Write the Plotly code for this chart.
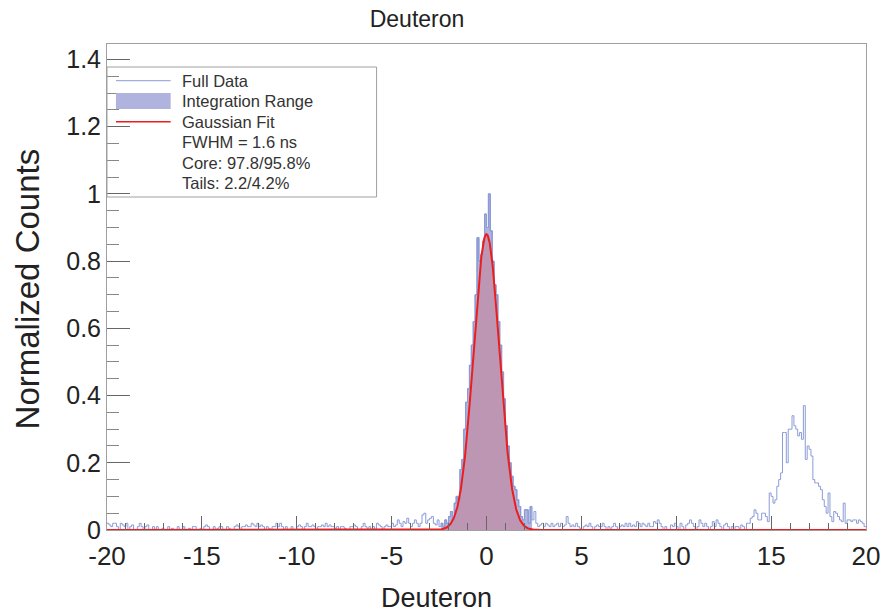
import numpy as np
import plotly.graph_objects as go

# ---------------- data ----------------
bin_lo = -20.0
bin_width = 0.1
# Normalized counts per 0.1 ns bin, one row per unit from -20 to 19
counts = [
    0.02, 0.015, 0.01, 0.02, 0.02, 0.01, 0.0, 0.02, 0.015, 0.01,      # -20
    0.02, 0.0, 0.01, 0.015, 0.0, 0.0, 0.01, 0.02, 0.01, 0.0,          # -19
    0.01, 0.015, 0.0, 0.0, 0.01, 0.0, 0.01, 0.0, 0.0, 0.005,          # -18
    0.0, 0.0, 0.01, 0.0, 0.005, 0.0, 0.0, 0.01, 0.0, 0.0,             # -17
    0.01, 0.0, 0.0, 0.005, 0.0, 0.01, 0.01, 0.0, 0.0, 0.005,          # -16
    0.0, 0.01, 0.015, 0.01, 0.0, 0.0, 0.01, 0.0, 0.005, 0.01,         # -15
    0.01, 0.0, 0.0, 0.01, 0.005, 0.0, 0.0, 0.01, 0.015, 0.01,         # -14
    0.0, 0.01, 0.01, 0.015, 0.01, 0.01, 0.02, 0.015, 0.01, 0.02,      # -13
    0.01, 0.015, 0.01, 0.0, 0.01, 0.005, 0.0, 0.01, 0.01, 0.02,       # -12
    0.01, 0.02, 0.01, 0.0, 0.01, 0.0, 0.0, 0.01, 0.0, 0.0,            # -11
    0.01, 0.015, 0.01, 0.0, 0.01, 0.02, 0.01, 0.01, 0.015, 0.01,      # -10
    0.0, 0.01, 0.01, 0.015, 0.01, 0.02, 0.01, 0.015, 0.01, 0.01,      # -9
    0.005, 0.01, 0.0, 0.01, 0.01, 0.005, 0.0, 0.0, 0.01, 0.01,        # -8
    0.015, 0.01, 0.0, 0.0, 0.01, 0.02, 0.01, 0.005, 0.01, 0.0,        # -7
    0.01, 0.0, 0.02, 0.015, 0.01, 0.0, 0.01, 0.015, 0.01, 0.01,       # -6
    0.02, 0.01, 0.015, 0.03, 0.02, 0.01, 0.025, 0.02, 0.035, 0.02,    # -5
    0.01, 0.02, 0.03, 0.02, 0.01, 0.02, 0.045, 0.05, 0.02, 0.03,      # -4
    0.035, 0.04, 0.02, 0.015, 0.03, 0.01, 0.02, 0.01, 0.03, 0.02,     # -3
    0.04, 0.055, 0.03, 0.08, 0.10, 0.09, 0.18, 0.21, 0.30, 0.38,      # -2
    0.42, 0.49, 0.55, 0.62, 0.70, 0.87, 0.80, 0.82, 0.86, 0.94,       # -1
    0.90, 1.00, 0.89, 0.80, 0.73, 0.70, 0.62, 0.55, 0.47, 0.39,       # 0
    0.31, 0.25, 0.20, 0.16, 0.13, 0.12, 0.09, 0.07, 0.04, 0.03,       # 1
    0.06, 0.06, 0.02, 0.07, 0.03, 0.055, 0.02, 0.01, 0.015, 0.02,     # 2
    0.01, 0.02, 0.015, 0.01, 0.02, 0.01, 0.015, 0.02, 0.01, 0.02,     # 3
    0.01, 0.015, 0.04, 0.02, 0.01, 0.015, 0.01, 0.02, 0.01, 0.005,    # 4
    0.0, 0.01, 0.015, 0.01, 0.02, 0.01, 0.0, 0.01, 0.015, 0.01,       # 5
    0.01, 0.02, 0.01, 0.0, 0.01, 0.005, 0.01, 0.02, 0.01, 0.0,        # 6
    0.01, 0.015, 0.01, 0.02, 0.01, 0.02, 0.01, 0.015, 0.01, 0.025,    # 7
    0.02, 0.01, 0.02, 0.015, 0.01, 0.02, 0.01, 0.01, 0.025, 0.02,     # 8
    0.03, 0.02, 0.01, 0.0, 0.01, 0.0, 0.0, 0.015, 0.01, 0.02,         # 9
    0.01, 0.0, 0.02, 0.01, 0.0, 0.015, 0.02, 0.03, 0.02, 0.01,        # 10
    0.0, 0.01, 0.03, 0.02, 0.01, 0.02, 0.01, 0.0, 0.01, 0.025,        # 11
    0.01, 0.03, 0.02, 0.01, 0.0, 0.015, 0.02, 0.01, 0.0, 0.01,        # 12
    0.0, 0.01, 0.01, 0.005, 0.015, 0.01, 0.0, 0.02, 0.02, 0.035,      # 13
    0.04, 0.06, 0.05, 0.03, 0.03, 0.05, 0.05, 0.04, 0.025, 0.11,      # 14
    0.10, 0.08, 0.09, 0.13, 0.15, 0.17, 0.29, 0.29, 0.20, 0.30,       # 15
    0.30, 0.34, 0.31, 0.30, 0.28, 0.29, 0.27, 0.37, 0.21, 0.25,       # 16
    0.24, 0.22, 0.15, 0.14, 0.14, 0.13, 0.12, 0.09, 0.07, 0.05,       # 17
    0.11, 0.04, 0.025, 0.055, 0.05, 0.04, 0.03, 0.025, 0.08, 0.02,    # 18
    0.03, 0.03, 0.025, 0.03, 0.03, 0.02, 0.03, 0.025, 0.02, 0.01,     # 19
]
integration_range = [-2.4, 2.4]
# Gaussian fit parameters
fit_amp = 0.88
fit_mean = 0.0
fit_sigma = 0.68

legend_labels = ["Full Data", "Integration Range", "Gaussian Fit"]
legend_notes = ["FWHM = 1.6 ns", "Core: 97.8/95.8%", "Tails: 2.2/4.2%"]
title_text = "Deuteron"
x_title = "Deuteron"
y_title = "Normalized Counts"
x_ticks = [-20, -15, -10, -5, 0, 5, 10, 15, 20]
x_ticklabels = ["-20", "-15", "-10", "-5", "0", "5", "10", "15", "20"]
y_ticks = [0, 0.2, 0.4, 0.6, 0.8, 1.0, 1.2, 1.4]
y_ticklabels = ["0", "0.2", "0.4", "0.6", "0.8", "1", "1.2", "1.4"]

# ---------------- derived ----------------
n_bins = len(counts)
edges = np.round(bin_lo + bin_width * np.arange(n_bins + 1), 3)
x_step = list(edges)
y_step = list(counts) + [counts[-1]]

i0 = int(round((integration_range[0] - bin_lo) / bin_width))
i1 = int(round((integration_range[1] - bin_lo) / bin_width))
x_fill = list(edges[i0:i1 + 1])
y_fill = list(counts[i0:i1]) + [counts[i1 - 1]]

xg = np.linspace(-20, 20, 2001)
yg = fit_amp * np.exp(-0.5 * ((xg - fit_mean) / fit_sigma) ** 2)

BLUE_LINE = "#8c9cd6"
LAVENDER = "#afb3dd"
RED = "#ee1c1c"
FONT = "Liberation Sans, Arial, sans-serif"
TXT = "#222222"

fig = go.Figure()
fig.add_trace(go.Scatter(x=x_fill, y=y_fill, mode="lines", line=dict(shape="hv", color="#7e8ecc", width=1),
                         fill="tozeroy", fillcolor=LAVENDER, showlegend=False, hoverinfo="skip"))
fig.add_trace(go.Scatter(x=xg, y=yg, mode="lines", line=dict(color="rgba(0,0,0,0)", width=0),
                         fill="tozeroy", fillcolor="rgba(235,60,45,0.24)", showlegend=False, hoverinfo="skip"))
fig.add_trace(go.Scatter(x=x_step, y=y_step, mode="lines", line=dict(shape="hv", color=BLUE_LINE, width=1),
                         showlegend=False))
fig.add_trace(go.Scatter(x=xg, y=yg, mode="lines", line=dict(color=RED, width=2), showlegend=False))

# body margin is removed by a post script, so the figure fills the page from (0, 0)
W, H = 892, 614
plot_left, plot_right, plot_top, plot_bottom = 107, 870, 44, 530   # page pixels
L, T, R, B = plot_left, plot_top, W - plot_right, H - plot_bottom
pw, ph = plot_right - plot_left, plot_bottom - plot_top

def px(xp):
    return (xp - plot_left) / pw

def py(yp):
    return (plot_bottom - yp) / ph

shapes = []
annotations = []
# legend box
shapes.append(dict(type="rect", xref="paper", yref="paper", x0=px(107), x1=px(378), y0=py(197), y1=py(67),
                   line=dict(color="#a0a0a0", width=1), fillcolor="rgba(0,0,0,0)", layer="above"))
row_y = [80.7, 101, 121.7, 142, 162.5, 183]
shapes.append(dict(type="line", xref="paper", yref="paper", x0=px(116), x1=px(171), y0=py(row_y[0]), y1=py(row_y[0]),
                   line=dict(color=BLUE_LINE, width=1)))
shapes.append(dict(type="rect", xref="paper", yref="paper", x0=px(116), x1=px(171), y0=py(109), y1=py(93),
                   line=dict(width=0), fillcolor=LAVENDER))
shapes.append(dict(type="line", xref="paper", yref="paper", x0=px(116), x1=px(171), y0=py(row_y[2]), y1=py(row_y[2]),
                   line=dict(color=RED, width=1.5)))
for txt, yy in zip(legend_labels + legend_notes, row_y):
    annotations.append(dict(text=txt, xref="paper", yref="paper", x=px(180), y=py(yy), xanchor="left",
                            yanchor="middle", showarrow=False, font=dict(family=FONT, size=16.5, color="#333333")))
# axis titles
annotations.append(dict(text=x_title, xref="paper", yref="paper", x=px(438), y=py(598), xanchor="center",
                        yanchor="middle", showarrow=False, font=dict(family=FONT, size=27, color=TXT)))
annotations.append(dict(text=y_title, xref="paper", yref="paper", x=px(27), y=py(289), xanchor="center",
                        yanchor="middle", showarrow=False, textangle=-90, font=dict(family=FONT, size=33, color=TXT)))

fig.update_layout(
    width=W, height=H,
    margin=dict(l=L, r=R, t=T, b=B, pad=0),
    paper_bgcolor="white", plot_bgcolor="white",
    title=dict(text=title_text, x=417 / W, xanchor="center", y=1 - 19 / H, yanchor="middle",
               font=dict(family=FONT, size=23, color=TXT)),
    shapes=shapes, annotations=annotations,
    xaxis=dict(range=[-20, 20], tickvals=x_ticks, ticktext=x_ticklabels, ticks="inside", ticklen=14,
               tickcolor="#666666", tickwidth=1, ticklabelstandoff=3,
               minor=dict(dtick=1, tick0=0, ticks="inside", ticklen=7, tickcolor="#666666"),
               showline=True, linecolor="#a0a0a0", mirror=True, showgrid=False, zeroline=False,
               tickfont=dict(family=FONT, size=26, color=TXT)),
    yaxis=dict(range=[0, 1.446], tickvals=y_ticks, ticktext=y_ticklabels,
               ticks="inside", ticklen=23, tickcolor="#666666", tickwidth=1,
               minor=dict(dtick=0.05, tick0=0, ticks="inside", ticklen=12, tickcolor="#888888"),
               showline=True, linecolor="#a0a0a0", mirror=True, showgrid=False, zeroline=False,
               tickfont=dict(family=FONT, size=25, color=TXT)),
)

fig.write_html(
    "out.html",
    config={"displayModeBar": False, "responsive": False},
    post_script=("document.body.style.margin='0px';"
                 "document.body.style.overflow='hidden';"
                 "document.documentElement.style.overflow='hidden';"),
)
